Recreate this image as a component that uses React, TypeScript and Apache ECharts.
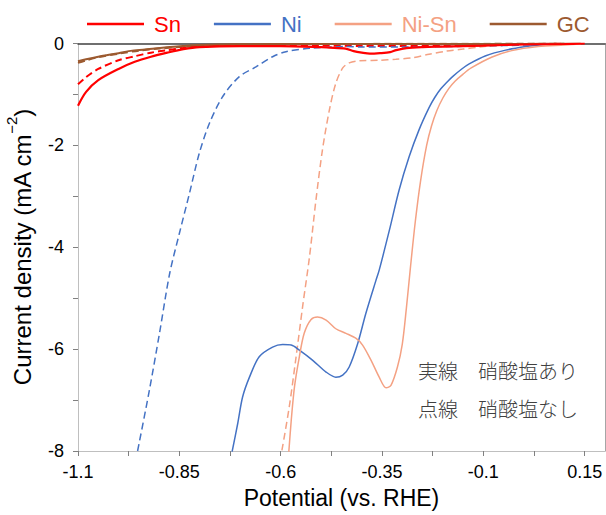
import React, { useEffect, useRef } from "react";
import * as echarts from "echarts";

// Potential (V vs. RHE), current density (mA cm^-2)
const snWith: [number, number][] = [
  [-1.1, -1.22], [-1.08, -0.95], [-1.05, -0.72], [-1.0, -0.5], [-0.96, -0.36], [-0.92, -0.26],
  [-0.88, -0.18], [-0.84, -0.11], [-0.8, -0.07], [-0.7, -0.05], [-0.6, -0.05], [-0.5, -0.07],
  [-0.48, -0.08], [-0.44, -0.1], [-0.42, -0.15], [-0.4, -0.18], [-0.38, -0.2], [-0.355, -0.19],
  [-0.33, -0.17], [-0.315, -0.13], [-0.29, -0.09], [-0.25, -0.07], [-0.2, -0.06], [-0.1, -0.04],
  [0.0, -0.02], [0.1, -0.01], [0.15, 0.0],
];
const snWithout: [number, number][] = [
  [-1.1, -0.8], [-1.08, -0.66], [-1.05, -0.5], [-1.0, -0.33], [-0.96, -0.25], [-0.92, -0.18],
  [-0.88, -0.13], [-0.84, -0.09], [-0.8, -0.06], [-0.7, -0.04], [-0.5, -0.04], [-0.4, -0.05],
  [-0.3, -0.05], [-0.2, -0.04], [-0.1, -0.03], [0.0, -0.01], [0.1, 0.0],
];
const niWith: [number, number][] = [
  [-0.72, -8.02], [-0.706, -7.46], [-0.694, -6.94], [-0.677, -6.55], [-0.653, -6.15],
  [-0.62, -5.96], [-0.595, -5.91], [-0.574, -5.92], [-0.554, -6.02], [-0.521, -6.22],
  [-0.488, -6.45], [-0.464, -6.55], [-0.447, -6.51], [-0.431, -6.35], [-0.41, -5.89],
  [-0.39, -5.3], [-0.365, -4.65], [-0.357, -4.45], [-0.332, -3.67], [-0.308, -2.88],
  [-0.283, -2.22], [-0.259, -1.7], [-0.234, -1.26], [-0.22, -1.06], [-0.205, -0.89],
  [-0.19, -0.76], [-0.176, -0.65], [-0.155, -0.51], [-0.135, -0.4], [-0.094, -0.24],
  [-0.045, -0.13], [0.005, -0.06], [0.038, -0.03], [0.06, -0.01],
];
const niWithout: [number, number][] = [
  [-0.953, -8.0], [-0.924, -6.81], [-0.899, -5.69], [-0.874, -4.52], [-0.85, -3.73],
  [-0.825, -2.94], [-0.801, -2.16], [-0.776, -1.57], [-0.743, -1.04], [-0.702, -0.65],
  [-0.661, -0.46], [-0.62, -0.26], [-0.587, -0.16], [-0.522, -0.09], [-0.439, -0.06],
  [-0.4, -0.07], [-0.3, -0.07], [-0.2, -0.06], [-0.1, -0.05], [0.0, -0.03], [0.04, -0.01],
];
const niSnWith: [number, number][] = [
  [-0.58, -8.02], [-0.574, -7.4], [-0.566, -6.74], [-0.554, -6.15], [-0.542, -5.69],
  [-0.525, -5.42], [-0.509, -5.37], [-0.488, -5.43], [-0.464, -5.6], [-0.439, -5.69],
  [-0.414, -5.79], [-0.398, -5.92], [-0.377, -6.22], [-0.357, -6.55], [-0.34, -6.76],
  [-0.328, -6.71], [-0.312, -6.35], [-0.3, -5.9], [-0.29, -5.2], [-0.28, -4.4],
  [-0.268, -3.5], [-0.255, -2.7], [-0.24, -2.0], [-0.228, -1.62], [-0.215, -1.32],
  [-0.2, -1.07], [-0.185, -0.88], [-0.17, -0.74], [-0.15, -0.6], [-0.13, -0.48],
  [-0.08, -0.27], [-0.03, -0.14], [0.035, -0.06], [0.1, -0.03], [0.14, -0.01],
];
const niSnWithout: [number, number][] = [
  [-0.597, -7.99], [-0.579, -7.14], [-0.562, -6.15], [-0.546, -5.17], [-0.529, -4.19],
  [-0.513, -3.07], [-0.497, -2.09], [-0.48, -1.31], [-0.464, -0.78], [-0.447, -0.48],
  [-0.431, -0.38], [-0.406, -0.34], [-0.357, -0.33], [-0.316, -0.31], [-0.276, -0.28],
  [-0.234, -0.21], [-0.192, -0.15], [-0.151, -0.11], [-0.11, -0.07], [-0.069, -0.04],
  [0.013, 0.0],
];
const gcWith: [number, number][] = [
  [-1.1, -0.35], [-1.08, -0.31], [-1.05, -0.26], [-1.0, -0.19], [-0.966, -0.14],
  [-0.924, -0.11], [-0.882, -0.075], [-0.842, -0.05], [-0.8, -0.03], [-0.7, -0.015],
  [-0.5, -0.01], [0.0, -0.01], [0.14, 0.0],
];
const gcWithout: [number, number][] = [
  [-1.1, -0.38], [-1.08, -0.33], [-1.05, -0.27], [-1.0, -0.2], [-0.95, -0.14],
  [-0.9, -0.1], [-0.85, -0.07], [-0.8, -0.05], [-0.7, -0.02], [-0.5, -0.01], [0.1, 0.0],
];

const xTickValues = [-1.1, -0.975, -0.85, -0.725, -0.6, -0.475, -0.35, -0.225, -0.1, 0.025, 0.15];
const xLabelValues = [-1.1, -0.85, -0.6, -0.35, -0.1, 0.15];
const yTickValues = [-8, -7, -6, -5, -4, -3, -2, -1, 0];
const yLabelValues = [-8, -6, -4, -2, 0];

const C_SN = "#FF0000";
const C_NI = "#4472C4";
const C_NISN = "#F4A183";
const C_GC = "#9C5A30";
const FONT = "'Liberation Sans', Arial, sans-serif";

export default function App() {
  const ref = useRef<HTMLDivElement>(null);
  useEffect(() => {
    if (!ref.current) return;
    const chart = echarts.init(ref.current, null, { renderer: "svg" });
    const line = (name: string, data: [number, number][], color: string, width: number, dashed: boolean) => ({
      name,
      type: "line",
      data,
      showSymbol: false,
      symbol: "none",
      smooth: 0.3,
      lineStyle: { color, width, type: dashed ? [7, 4] : "solid" },
      itemStyle: { color },
      z: dashed ? 2 : 3,
    });
    chart.setOption({
      animation: false,
      backgroundColor: "#ffffff",
      grid: { left: 78, right: 1, top: 43.5, bottom: 64, outerBoundsMode: "none", containLabel: false },
      legend: {
        data: [
          { name: "Sn", textStyle: { color: C_SN } },
          { name: "Ni", textStyle: { color: C_NI } },
          { name: "Ni-Sn", textStyle: { color: C_NISN } },
          { name: "GC", textStyle: { color: C_GC } },
        ],
        icon: "rect",
        left: 82,
        top: 8,
        itemWidth: 57,
        itemHeight: 2.5,
        itemGap: 33,
        textStyle: { fontSize: 22, fontFamily: FONT, padding: [0, 0, 0, 5] },
      },
      xAxis: [
        {
          type: "value",
          min: -1.1,
          max: 0.2,
          position: "bottom",
          axisLine: { onZero: false, lineStyle: { color: "#BFBFBF", width: 1 } },
          axisTick: { show: true, length: 5, customValues: xTickValues, lineStyle: { color: "#808080" } },
          axisLabel: { customValues: xLabelValues, fontSize: 18, fontFamily: FONT, color: "#000", margin: 12 },
          splitLine: { show: false },
          name: "Potential (vs. RHE)",
          nameLocation: "middle",
          nameGap: 35,
          nameTextStyle: { fontSize: 23, fontFamily: FONT, color: "#000" },
        },
        {
          type: "value",
          min: -1.1,
          max: 0.2,
          position: "top",
          axisLine: { show: true, onZero: false, lineStyle: { color: "#404040", width: 1.5 } },
          axisTick: { show: false },
          axisLabel: { show: false },
          splitLine: { show: false },
        },
      ],
      yAxis: [
        {
          type: "value",
          min: -8,
          max: 0,
          axisLine: { show: true, onZero: false, lineStyle: { color: "#BFBFBF", width: 1 } },
          axisTick: { show: true, length: 5, customValues: yTickValues, lineStyle: { color: "#808080" } },
          axisLabel: { customValues: yLabelValues, fontSize: 18, fontFamily: FONT, color: "#000", margin: 14 },
          splitLine: { show: false },
          name: "{a|Current density (mA cm}{s|−2}{a|)}",
          nameLocation: "middle",
          nameRotate: 90,
          nameGap: 44,
          nameTextStyle: {
            rich: {
              a: { fontSize: 24, fontFamily: FONT, color: "#000", verticalAlign: "bottom", lineHeight: 30 },
              s: { fontSize: 15, fontFamily: FONT, color: "#000", verticalAlign: "top", lineHeight: 30 },
            },
          },
        },
        {
          type: "value",
          min: -8,
          max: 0,
          position: "right",
          axisLine: { show: true, onZero: false, lineStyle: { color: "#A6A6A6", width: 1 } },
          axisTick: { show: false },
          axisLabel: { show: false },
          splitLine: { show: false },
        },
      ],
      graphic: [
        {
          type: "text",
          left: 418,
          top: 360,
          style: { text: "実線　硝酸塩あり", fontSize: 20, fontWeight: 300, fontFamily: "'Noto Sans CJK JP'", fill: "#404040" },
        },
        {
          type: "text",
          left: 418,
          top: 398,
          style: { text: "点線　硝酸塩なし", fontSize: 20, fontWeight: 300, fontFamily: "'Noto Sans CJK JP'", fill: "#404040" },
        },
      ],
      series: [
        line("GC 点線", gcWithout, C_GC, 2, true),
        line("Sn 点線", snWithout, C_SN, 2, true),
        line("Ni 点線", niWithout, C_NI, 1.5, true),
        line("Ni-Sn 点線", niSnWithout, C_NISN, 1.5, true),
        line("GC", gcWith, C_GC, 2, false),
        line("Ni", niWith, C_NI, 1.5, false),
        line("Ni-Sn", niSnWith, C_NISN, 1.5, false),
        line("Sn", snWith, C_SN, 2.2, false),
      ],
    });
    return () => chart.dispose();
  }, []);
  return <div ref={ref} style={{ width: 606, height: 515, position: "absolute", left: 0, top: 0 }} />;
}
